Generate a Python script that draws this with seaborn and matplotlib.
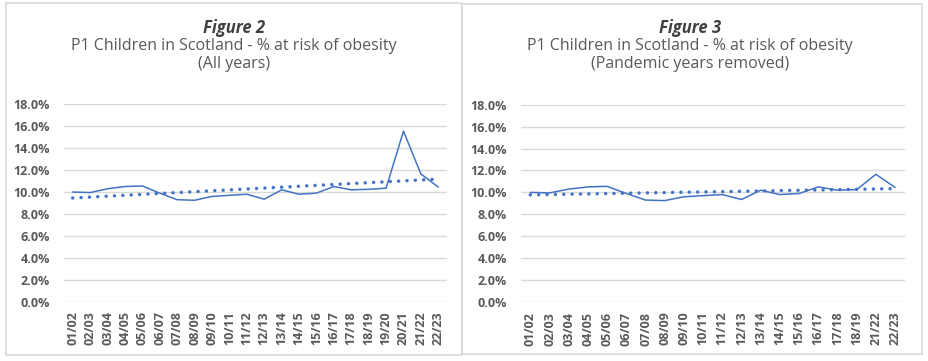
"""P1 children in Scotland at risk of obesity: all years vs pandemic years removed."""

import matplotlib
matplotlib.use("Agg")
import matplotlib.pyplot as plt
from matplotlib.patches import Rectangle
from matplotlib.ticker import FuncFormatter
import seaborn as sns
import pandas as pd
import numpy as np

# ---- data ----
years_all = ["01/02", "02/03", "03/04", "04/05", "05/06", "06/07", "07/08", "08/09",
             "09/10", "10/11", "11/12", "12/13", "13/14", "14/15", "15/16", "16/17",
             "17/18", "18/19", "19/20", "20/21", "21/22", "22/23"]
risk_all = [10.0, 9.95, 10.3, 10.5, 10.55, 9.9, 9.3, 9.25, 9.6, 9.7, 9.8, 9.35,
            10.2, 9.8, 9.9, 10.5, 10.2, 10.25, 10.35, 15.55, 11.65, 10.45]

pandemic_years = ["19/20", "20/21"]
years_trim = [y for y in years_all if y not in pandemic_years]
risk_trim = [v for y, v in zip(years_all, risk_all) if y not in pandemic_years]

y_ticks = [0, 2, 4, 6, 8, 10, 12, 14, 16, 18]

BLUE = "#4472C4"
GRID = "#D9D9D9"
TICK = "#595959"
W, H = 929, 361

sns.set_theme(style="white")
plt.rcParams["font.family"] = ["Open Sans", "DejaVu Sans"]


def draw_panel(ax, labels, values):
    df = pd.DataFrame({"x": np.arange(len(labels)), "pct": values})
    # linear trendline, dotted
    sns.regplot(data=df, x="x", y="pct", scatter=False, ci=None, truncate=True, ax=ax,
                line_kws=dict(color=BLUE, lw=2.5, linestyle=(0, (0.01, 2.4)),
                              dash_capstyle="round"))
    sns.lineplot(data=df, x="x", y="pct", color=BLUE, lw=1.1, ax=ax)
    ax.set_xlim(-0.5, len(labels) - 0.5)
    ax.set_ylim(0, 18)
    ax.set_yticks(y_ticks)
    ax.yaxis.set_major_formatter(FuncFormatter(lambda v, _: f"{v:.1f}%"))
    ax.set_xticks(df["x"])
    ax.set_xticklabels(labels, rotation=90)
    ax.grid(axis="y", color=GRID, lw=1)
    ax.set_axisbelow(True)
    for s in ax.spines.values():
        s.set_visible(False)
    ax.tick_params(axis="both", length=0, colors=TICK)
    ax.tick_params(axis="y", pad=10, labelsize=9)
    ax.tick_params(axis="x", pad=7, labelsize=9)
    for t in ax.get_xticklabels() + ax.get_yticklabels():
        t.set_fontweight("bold")
    ax.set_xlabel("")
    ax.set_ylabel("")


fig = plt.figure(figsize=(W / 100, H / 100), dpi=100)

# panel borders
for x0, x1, y0, y1 in [(6, 462, 3, 355), (462, 922, 3.5, 354)]:
    fig.add_artist(Rectangle((x0 / W, 1 - y1 / H), (x1 - x0) / W, (y1 - y0) / H,
                             transform=fig.transFigure, fill=False,
                             edgecolor=GRID, lw=1.2))

ax1 = fig.add_axes([64 / W, 1 - 301.7 / H, 383 / W, 197.4 / H])
ax2 = fig.add_axes([520.7 / W, 1 - 302 / H, 384 / W, 197.3 / H])
draw_panel(ax1, years_all, risk_all)
draw_panel(ax2, years_trim, risk_trim)

titles = [(234, "Figure 2", "(All years)"), (690, "Figure 3", "(Pandemic years removed)")]
for cx, fig_name, note in titles:
    fig.text(cx / W, 1 - 28 / H, fig_name, ha="center", va="center", fontsize=12,
             fontweight="bold", fontstyle="italic", color="#404040")
    fig.text(cx / W, 1 - 46.5 / H, "P1 Children in Scotland - % at risk of obesity",
             ha="center", va="center", fontsize=11.5, color="#595959")
    fig.text(cx / W, 1 - 64.5 / H, note, ha="center", va="center", fontsize=11.5,
             color="#595959")

fig.savefig("out.png", dpi=100)
